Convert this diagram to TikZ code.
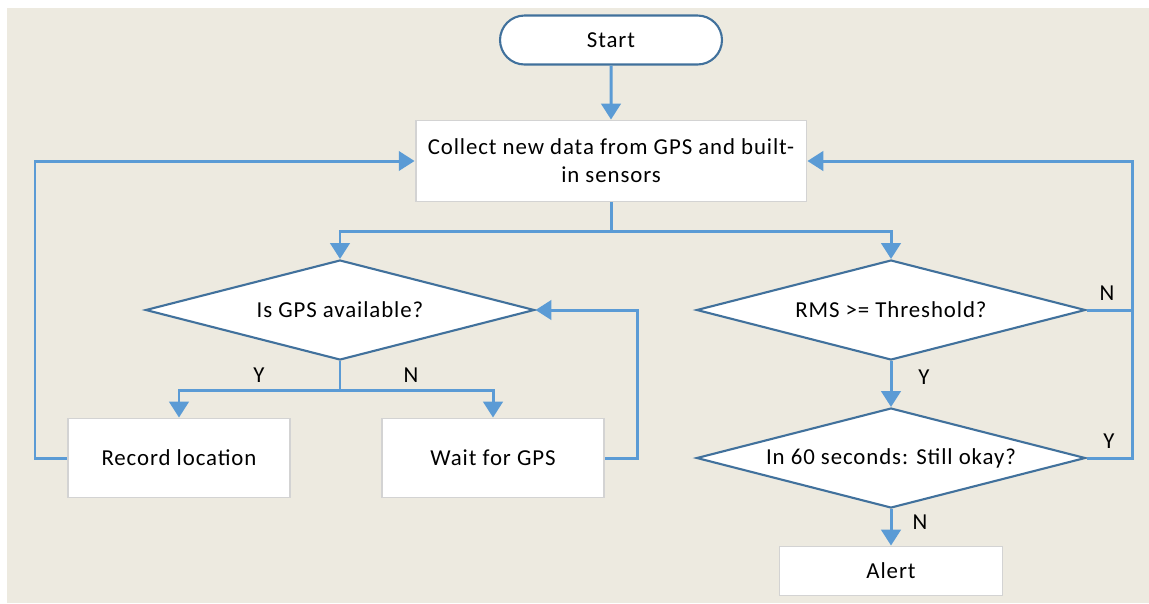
\documentclass[tikz,border=0pt]{standalone}
\usepackage{fontspec}
\setmainfont{Carlito}[LetterSpace=4]
\usetikzlibrary{shapes.geometric,shapes.misc,arrows.meta}
\definecolor{bgc}{HTML}{EDEAE0}
\definecolor{conn}{HTML}{5B9BD5}
\definecolor{dborder}{HTML}{41719C}
\definecolor{bborder}{HTML}{D3D3D3}
\tikzset{
  px/.style={x=0.02cm,y=-0.02cm},
  txt/.style={font=\fontsize{13}{16}\selectfont},
  procbox/.style={txt,draw=bborder,line width=1.1pt,fill=white,inner sep=0pt,align=center},
  decision/.style={txt,diamond,draw=dborder,line width=1.2pt,fill=white,inner sep=0pt,aspect=3.89,minimum width=7.78cm,minimum height=2cm},
  terminal/.style={txt,rounded rectangle,draw=dborder,line width=1.2pt,fill=white,minimum width=4.44cm,minimum height=0.98cm,inner sep=0pt},
  conline/.style={draw=conn,line width=1.7pt},
  arr/.style={conline,-{Triangle[width=11pt,length=9pt]}},
  lbl/.style={txt,inner sep=0pt}
}
\begin{document}
\begin{tikzpicture}[px]
\useasboundingbox (0,0) rectangle (1149,603);
\fill[white] (0,0) rectangle (1149,603);
\fill[bgc] (7,8) rectangle (1149,603);

\node[terminal] (start) at (611,40) {Start};
\node[procbox,minimum width=7.82cm,minimum height=1.62cm] (collect) at (611,161) {Collect new data from GPS and built-\\in sensors};
\node[decision] (gps) at (340,310) {Is GPS available?};
\node[decision] (rms) at (891,310) {RMS >= Threshold?};
\node[procbox,minimum width=4.44cm,minimum height=1.58cm] (record) at (179,458) {Record location};
\node[procbox,minimum width=4.44cm,minimum height=1.58cm] (wait) at (493,458) {Wait for GPS};
\node[decision] (still) at (891,458) {In 60 seconds: Still okay?};
\node[procbox,minimum width=4.46cm,minimum height=0.98cm] (alert) at (891,571) {Alert};

\coordinate (split1) at (611,231);
\coordinate (split2) at (340,390);
\coordinate (rj) at (1132,310);

\draw[arr] (start) -- (collect);
\draw[conline] (collect.south) -- (split1);
\draw[arr] (split1) -| (gps.north);
\draw[arr] (split1) -| (rms.north);

\draw[conline] (gps.south) -- (split2);
\draw[arr] (split2) -| (record.north);
\draw[arr] (split2) -| (wait.north);
\node[lbl] (ly1) at (259,375) {Y};
\node[lbl] (ln1) at (411,375) {N};

\draw[arr] (record.west) -- (35,458) |- (collect.west);
\draw[arr] (wait.east) -- (637,458) |- (gps.east);

\draw[conline] (rms.east) -- (rj);
\draw[arr] (still.east) -| (rj) |- (collect.east);
\node[lbl] (ln2) at (1107,293) {N};
\node[lbl] (ly3) at (1109,441) {Y};

\draw[arr] (rms.south) -- (still.north);
\node[lbl] (ly2) at (924,377) {Y};
\draw[arr] (still.south) -- (alert.north);
\node[lbl] (ln3) at (920,522) {N};
\end{tikzpicture}
\end{document}
